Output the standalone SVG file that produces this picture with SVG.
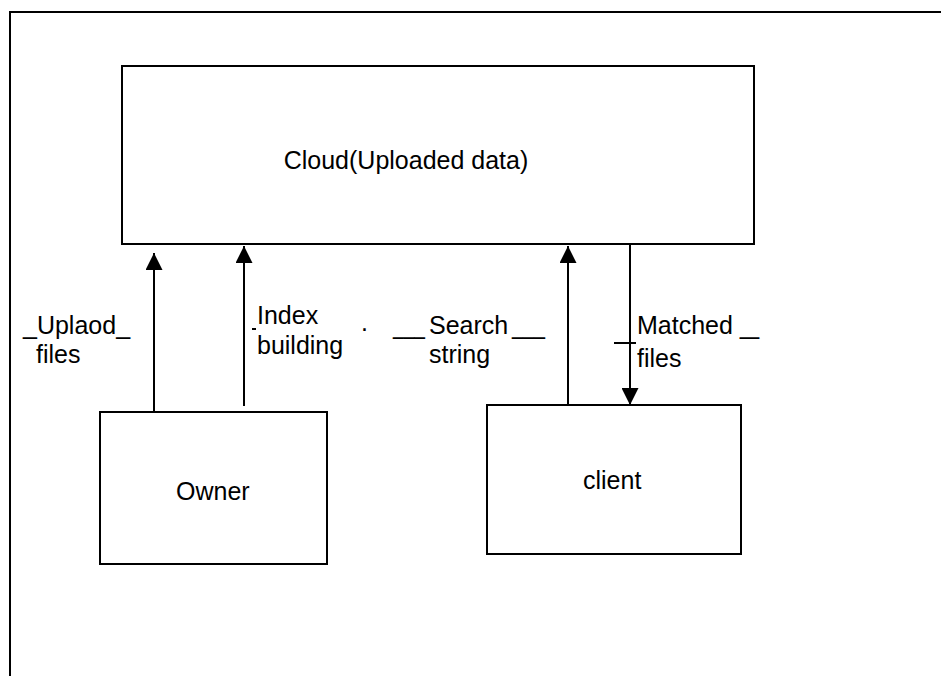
<svg xmlns="http://www.w3.org/2000/svg" width="941" height="676" viewBox="0 0 941 676">
  <defs>
    <style>
      .box { fill: #ffffff; stroke: #000000; stroke-width: 2; }
      .frame { fill: none; stroke: #000000; stroke-width: 2; }
      .wire { stroke: #000000; stroke-width: 2; fill: none; }
      .lbl { font-family: "Liberation Sans", Arial, sans-serif; font-size: 25px; fill: #000000; }
    </style>
    <marker id="head" markerUnits="userSpaceOnUse" markerWidth="17" markerHeight="17" refX="17" refY="8.5" orient="auto">
      <path d="M0,0 L17,8.5 L0,17 z" fill="#000000"/>
    </marker>
  </defs>

  <rect width="941" height="676" fill="#ffffff"/>

  <!-- page frame -->
  <path class="frame" d="M10,680 L10,12 L945,12"/>

  <g id="cloud">
    <rect class="box" x="122" y="66" width="632" height="178"/>
    <text class="lbl" x="406" y="169" text-anchor="middle">Cloud(Uploaded data)</text>
  </g>

  <g id="owner">
    <rect class="box" x="100" y="412" width="227" height="152"/>
    <text class="lbl" x="176" y="500">Owner</text>
  </g>

  <g id="client">
    <rect class="box" x="487" y="405" width="254" height="149"/>
    <text class="lbl" x="583" y="489">client</text>
  </g>

  <g id="connectors">
    <line class="wire" x1="154" y1="412" x2="154" y2="253" marker-end="url(#head)"/>
    <line class="wire" x1="244" y1="406" x2="244" y2="246" marker-end="url(#head)"/>
    <line class="wire" x1="568" y1="405" x2="568" y2="246" marker-end="url(#head)"/>
    <line class="wire" x1="630" y1="245" x2="630" y2="405" marker-end="url(#head)"/>
  </g>

  <g id="labels">
    <text class="lbl" x="23" y="334">_Uplaod_</text>
    <text class="lbl" x="36" y="363">files</text>

    <line class="wire" x1="252" y1="329" x2="256" y2="329" stroke-width="1.5"/>
    <text class="lbl" x="257" y="324">Index</text>
    <text class="lbl" x="257" y="354">building</text>

    <text class="lbl" x="361" y="331" font-size="20">.</text>

    <text class="lbl" x="393" y="334" textLength="32" lengthAdjust="spacingAndGlyphs">___</text>
    <text class="lbl" x="429" y="334">Search</text>
    <text class="lbl" x="512" y="334" textLength="33" lengthAdjust="spacingAndGlyphs">___</text>
    <text class="lbl" x="429" y="363">string</text>

    <text class="lbl" x="637" y="334">Matched</text>
    <text class="lbl" x="740" y="334" textLength="19" lengthAdjust="spacingAndGlyphs">_</text>
    <line class="wire" x1="614" y1="343" x2="636" y2="343"/>
    <text class="lbl" x="637" y="367">files</text>
  </g>
</svg>
